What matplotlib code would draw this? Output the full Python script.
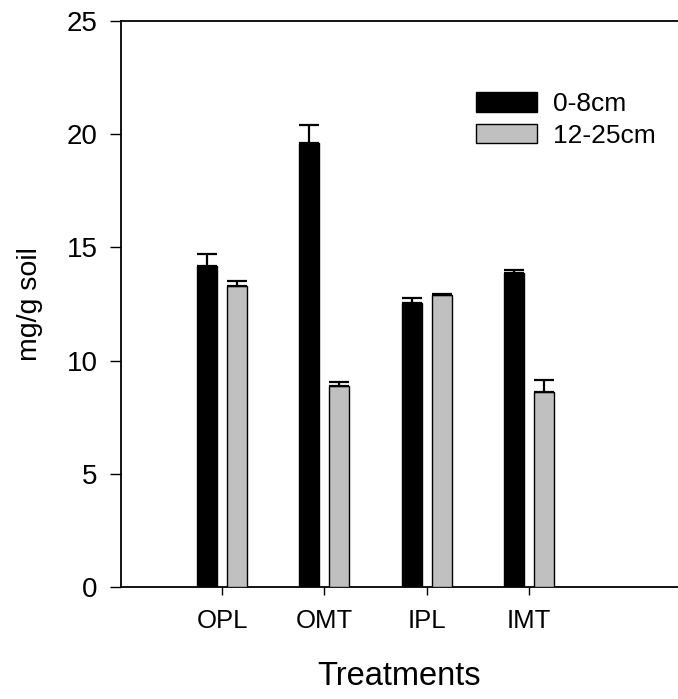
import matplotlib
matplotlib.use("Agg")
import matplotlib.pyplot as plt
import numpy as np

plt.rcParams['font.family'] = ['Liberation Sans', 'DejaVu Sans']

categories = ["OPL", "OMT", "IPL", "IMT"]
series_names = ["0-8cm", "12-25cm"]
shallow = [14.2, 19.6, 12.55, 13.85]
shallow_err = [0.5, 0.8, 0.2, 0.15]
deep = [13.3, 8.9, 12.9, 8.6]
deep_err = [0.2, 0.15, 0.02, 0.55]
yticks = [0, 5, 10, 15, 20, 25]

fig = plt.figure(figsize=(6.78, 6.99), dpi=100)
ax = fig.add_axes([121/678, 1-587/699, 1-121/678, (587-21)/699])

x = np.arange(len(categories))
w = 0.195
off = 0.147
ax.bar(x - off, shallow, w, color='black', edgecolor='black', linewidth=1,
       yerr=[np.zeros(4), shallow_err], capsize=7.2,
       error_kw=dict(ecolor='black', elinewidth=1.6, capthick=1.6), label=series_names[0], zorder=3)
ax.bar(x + off, deep, w, color='#c0c0c0', edgecolor='black', linewidth=1,
       yerr=[np.zeros(4), deep_err], capsize=7.2,
       error_kw=dict(ecolor='black', elinewidth=1.6, capthick=1.6), label=series_names[1], zorder=3)

ax.set_xlim(-0.99, 4.46)
ax.set_ylim(0, 25)
ax.set_yticks(yticks)
ax.set_xticks(x)
ax.set_xticklabels(categories)
ax.spines['right'].set_visible(False)
for s in ['left', 'top', 'bottom']:
    ax.spines[s].set_linewidth(1.3)
ax.tick_params(axis='y', direction='out', length=8, width=1, labelsize=20, pad=9)
ax.tick_params(axis='x', direction='out', length=6, width=1, labelsize=18.5, pad=10)

ax.set_ylabel("mg/g soil", fontsize=20.5)
ax.yaxis.set_label_coords(-0.14, 0.5)
ax.set_xlabel("Treatments", fontsize=23.5, labelpad=20)

leg = ax.legend(loc='upper left', bbox_to_anchor=(476/678, 1-92/699), bbox_transform=fig.transFigure,
                frameon=False, fontsize=19, handlelength=2.3, handleheight=0.76,
                handletextpad=0.6, labelspacing=0.3, borderpad=0, borderaxespad=0)

fig.savefig("out.png", dpi=100)
